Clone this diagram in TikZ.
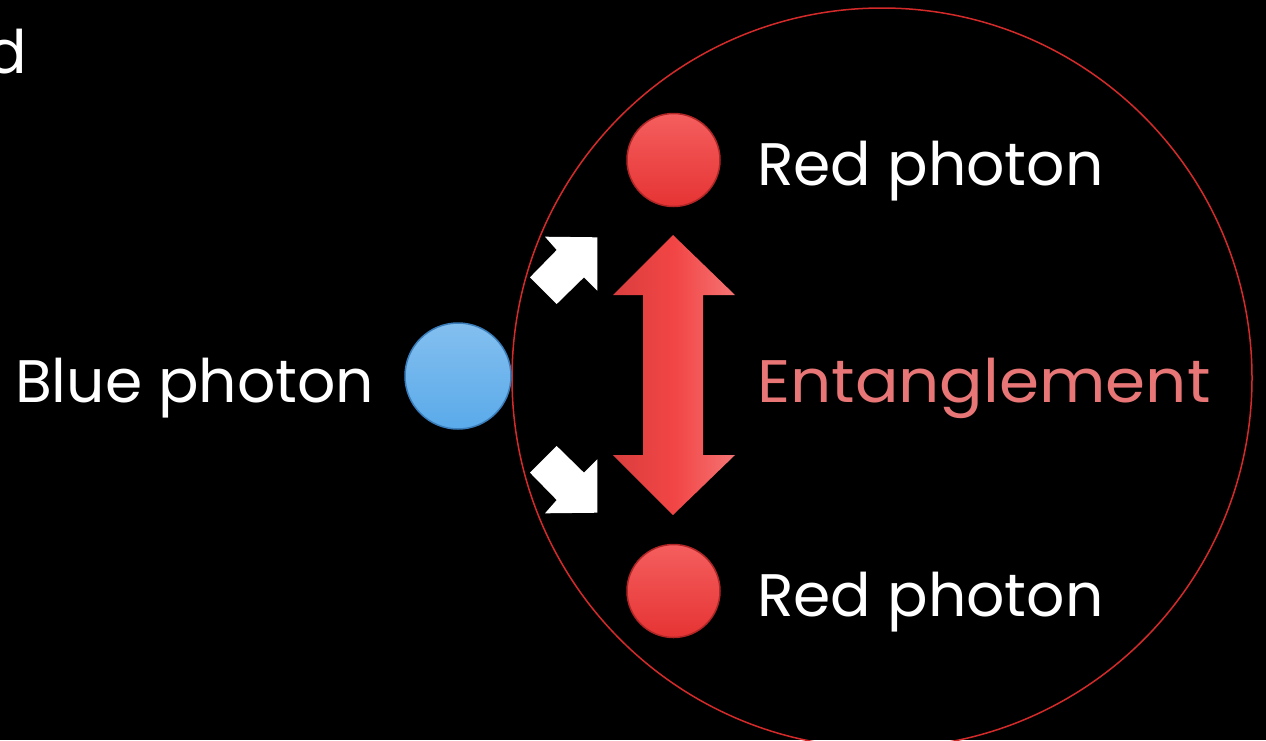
\documentclass[tikz,border=0pt]{standalone}
\usepackage{fontspec}
\setmainfont{Poppins}
\definecolor{ringred}{HTML}{D42A2A}
\definecolor{bluefill}{HTML}{5AAAEA}
\definecolor{blueedge}{HTML}{3A7DBA}
\definecolor{redfill}{HTML}{F23636}
\definecolor{rededge}{HTML}{B02626}
\definecolor{arrowred}{HTML}{F24545}
\definecolor{entcol}{HTML}{E87676}
\tikzset{
  lbl/.style={text=white, font=\fontsize{60}{60}\selectfont, inner sep=0pt},
  photon/.style={circle, inner sep=0pt, line width=1.5pt},
  whitearrow/.style={fill=white, draw=none},
}
\begin{document}
\begin{tikzpicture}[x=1pt,y=-1pt]
\useasboundingbox (0,0) rectangle (1266,740);
\fill[black] (0,0) rectangle (1266,740);
\begin{scope}
\clip (0,0) rectangle (1266,740);
\draw[ringred, line width=1.5pt] (882,378) circle (370);
\end{scope}
% photons
\node[photon, minimum size=106pt, draw=blueedge, top color=bluefill!75!white, bottom color=bluefill] (blue) at (458,376) {};
\node[photon, minimum size=93pt, draw=rededge, top color=redfill!80!white, bottom color=redfill!95!black] (red1) at (673.5,160) {};
\node[photon, minimum size=93pt, draw=rededge, top color=redfill!80!white, bottom color=redfill!95!black] (red2) at (673.5,591) {};
% labels
\node[lbl, anchor=base east] (dtxt) at (27,73) {d};
\node[lbl, anchor=base west] (lred1) at (757,185) {Red photon};
\node[lbl, anchor=base west] (lred2) at (757,616) {Red photon};
\node[lbl, anchor=base west] (lblue) at (15,402) {Blue photon};
\node[lbl, anchor=base west, text=entcol] (lent) at (757,402) {\scalebox{1.075}[1]{Entanglement}};
% white arrows
\fill[whitearrow] (597.3,237.3) -- (597.3,290.7) -- (584,277.3) -- (556.7,304) -- (530,277.3) -- (556.7,250) -- (545,236.7) -- cycle;
\fill[whitearrow] (597.3,512.7) -- (597.3,459.3) -- (584,472.7) -- (556.7,446) -- (530,472.7) -- (556.7,500) -- (545,513.3) -- cycle;
% red double arrow
\fill[left color=arrowred!90!black, right color=arrowred!75!white, middle color=arrowred] (673,235) -- (735,295) -- (703,295) -- (703,455) -- (735,455) -- (673,515) -- (613,455) -- (643,455) -- (643,295) -- (613,295) -- cycle;
\end{tikzpicture}
\end{document}
